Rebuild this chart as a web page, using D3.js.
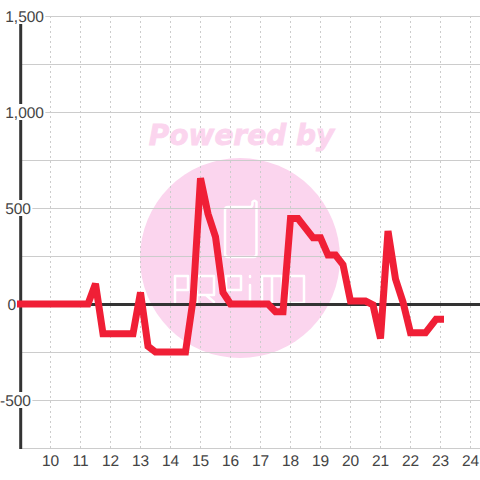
<!DOCTYPE html>
<html>
  <head>
    <title>Line</title>
    <script src="https://cdn.jsdelivr.net/npm/d3@7"></script>
    <style>
      html, body { margin: 0; padding: 0; background: #fff; }
      svg { display: block; font-family: "Liberation Sans", sans-serif; }
    </style>
  </head>
  <body>
    <svg width="480" height="480" id="mainsvg"></svg>
    <script>
      const hours = [9, 9.25, 9.5, 9.75, 10, 10.25, 10.5, 10.75, 11, 11.25, 11.5, 11.75, 12, 12.25, 12.5, 12.75, 13, 13.25, 13.5, 13.75, 14, 14.25, 14.5, 14.75, 15, 15.25, 15.5, 15.75, 16, 16.25, 16.5, 16.75, 17, 17.25, 17.5, 17.75, 18, 18.25, 18.5, 18.75, 19, 19.25, 19.5, 19.75, 20, 20.25, 20.5, 20.75, 21, 21.25, 21.5, 21.75, 22, 22.25, 22.5, 22.85, 23];
      const values = [0, 0, 0, 0, 0, 0, 0, 0, 0, 0, 105, -155, -155, -155, -155, -155, 60, -220, -250, -250, -250, -250, -250, 20, 655, 470, 350, 60, 0, 0, 0, 0, 0, 0, -40, -40, 445, 445, 395, 345, 345, 255, 255, 205, 15, 15, 15, -5, -180, 380, 130, 10, -150, -150, -150, -80, -80];
      const xTicks = [10, 11, 12, 13, 14, 15, 16, 17, 18, 19, 20, 21, 22, 23, 24];
      const yGrid = [-750, -500, -250, 0, 250, 500, 750, 1000, 1250, 1500];
      const yLabels = ['1,500', '1,000', '500', '0', '-500'];
      const yLabelValues = [1500, 1000, 500, 0, -500];
      const yLabelEnds = [44, 44, 31, 16, 31];

      const svg = d3.select('#mainsvg');
      const x = d3.scaleLinear().domain([9, 24]).range([20.5, 470.5]);
      const y = d3.scaleLinear().domain([-750, 1500]).range([448, 16]);
      const xRight = 480;

      // watermark
      const mark = svg.append('g');
      mark.append('circle').attr('cx', 240).attr('cy', 258).attr('r', 100).attr('fill', '#fbd5ee');
      mark.append('text').attr('x', 241.5).attr('y', 145)
        .attr('text-anchor', 'middle')
        .attr('font-family', 'DejaVu Sans').attr('font-weight', 'bold').attr('font-style', 'italic')
        .attr('font-size', 28).attr('fill', '#fbd5ee').attr('stroke', '#fbd5ee').attr('stroke-width', 0.8)
        .text('Powered by');
      // phone and logo outline, white
      const logo = mark.append('g').attr('fill', 'none').attr('stroke', '#fff').attr('stroke-width', 2.5)
        .attr('stroke-linejoin', 'round').attr('stroke-linecap', 'round');
      logo.append('path')
        .attr('d', 'M228 207 H250 Q252.500 207 252.500 204 V202 Q254.500 199.500 256.500 202 V254 Q256.500 257 253.500 257 H228 Q225 257 225 254 V210 Q225 207 228 207 Z');
      logo.append('path').attr('d', 'M175 302 V276 H188 V290 H175');
      logo.append('path').attr('d', 'M197 302 V276 H214 V295 H197 M206 295 L214 302');
      logo.append('path').attr('d', 'M226 302 V276 H241 V290 H226');
      logo.append('path').attr('d', 'M250 285 V302 M250 276 V277');
      logo.append('path').attr('d', 'M262 302 V276 H282 V302 M272 276 V302');
      logo.append('path').attr('d', 'M288 276 H304 V303 H288 Z');

      // grid
      svg.append('g').selectAll('line').data(yGrid).join('line')
        .attr('x1', 20).attr('x2', xRight)
        .attr('y1', d => Math.round(y(d)) + 0.5).attr('y2', d => Math.round(y(d)) + 0.5)
        .attr('stroke', '#ccc').attr('stroke-width', 1);
      svg.append('g').selectAll('line').data(xTicks).join('line')
        .attr('x1', d => x(d)).attr('x2', d => x(d))
        .attr('y1', 16).attr('y2', 448)
        .attr('stroke', '#ccc').attr('stroke-width', 1).attr('stroke-dasharray', '2,3');

      // axis lines
      svg.append('line').attr('x1', 20.7).attr('x2', 20.7).attr('y1', 16).attr('y2', 449)
        .attr('stroke', '#333').attr('stroke-width', 3);
      svg.append('line').attr('x1', 20).attr('x2', xRight).attr('y1', y(0) + 0.5).attr('y2', y(0) + 0.5)
        .attr('stroke', '#333').attr('stroke-width', 3);

      // y labels have a white box behind them
      const yLab = svg.append('g').selectAll('g').data(yLabels).join('g')
        .attr('transform', (d, i) => `translate(0, ${Math.round(y(yLabelValues[i]))})`);
      yLab.append('text').attr('y', 5.5)
        .attr('x', (d, i) => yLabelEnds[i])
        .attr('text-anchor', 'end').attr('font-size', 15.5).attr('fill', '#444')
        .attr('text-rendering', 'geometricPrecision')
        .text(d => d);
      yLab.each(function() {
        const g = d3.select(this);
        const b = g.select('text').node().getBBox();
        g.insert('rect', 'text').attr('x', b.x).attr('y', -8).attr('width', b.width + 1).attr('height', 16).attr('fill', '#fff');
      });

      // x labels
      svg.append('g').selectAll('text').data(xTicks).join('text')
        .attr('x', d => x(d)).attr('y', 466)
        .attr('text-anchor', 'middle').attr('font-size', 15.5).attr('fill', '#444')
        .attr('text-rendering', 'geometricPrecision')
        .text(d => d);

      const line = d3.line().x((d, i) => x(hours[i])).y(d => y(d));
      svg.append('path').datum(values)
        .attr('d', line)
        .attr('fill', 'none').attr('stroke', '#f01f36').attr('stroke-width', 7)
        .attr('stroke-linejoin', 'miter').attr('stroke-miterlimit', 2).attr('stroke-linecap', 'square');
    </script>
  </body>
</html>
